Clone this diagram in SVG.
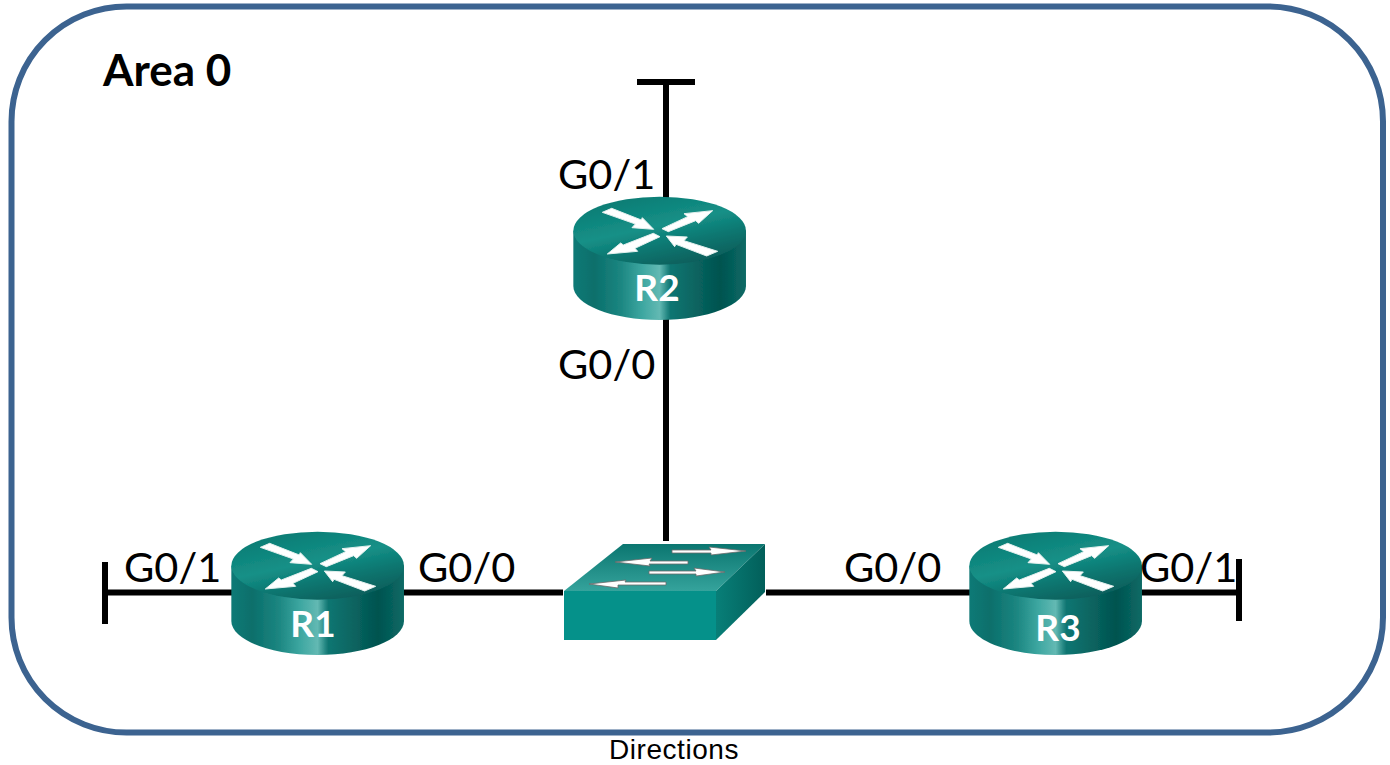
<svg xmlns="http://www.w3.org/2000/svg" width="1390" height="765" viewBox="0 0 1390 765">
<style>
.lbl{font-family:"Lato","Carlito","Liberation Sans",sans-serif;font-size:41.5px;fill:#000}
.name{font-family:"Lato","Carlito","Liberation Sans",sans-serif;font-size:37px;font-weight:700;fill:#fff;text-anchor:middle}
.wire{stroke:#000;stroke-width:6;fill:none}
</style>
<defs>
<filter id="soft" x="-5%" y="-5%" width="110%" height="110%"><feGaussianBlur stdDeviation="0.6"/></filter>
<linearGradient id="side" x1="0" x2="1" y1="0" y2="0">
<stop offset="0" stop-color="#0f7a76"/><stop offset=".12" stop-color="#0a6f6b"/><stop offset=".27" stop-color="#1b8580"/><stop offset=".4" stop-color="#3da7a1"/><stop offset=".5" stop-color="#63b9b3"/><stop offset=".56" stop-color="#0f7672"/><stop offset=".85" stop-color="#02534f"/><stop offset="1" stop-color="#0a6a66"/>
</linearGradient>
<linearGradient id="top" x1="0.2" x2="0.75" y1="0" y2="1">
<stop offset="0" stop-color="#097a72"/><stop offset=".45" stop-color="#159087"/><stop offset=".7" stop-color="#0b7670"/><stop offset="1" stop-color="#065b58"/>
</linearGradient>
<linearGradient id="swtop" x1="0" x2="0" y1="0" y2="1">
<stop offset="0" stop-color="#0b7670"/><stop offset="1" stop-color="#35a39c"/>
</linearGradient>
<linearGradient id="swside" x1="0" x2="1" y1="0" y2="0">
<stop offset="0" stop-color="#087f78"/><stop offset="1" stop-color="#025f5a"/>
</linearGradient>
<g id="router" transform="scale(.3333)">
<g filter="url(#soft)">
<path d="M70 152V318C70 374 186 420 329 420S588 374 588 318V152Z" fill="url(#side)"/>
<ellipse cx="329" cy="152" rx="259" ry="102" fill="url(#top)"/>
</g>
<g fill="#fff" stroke="#e4f0ee" stroke-width="3" stroke-linejoin="round" filter="url(#soft)">
<path d="M157 97 185 85 274 120 277 113 311 148 246 143 256 132Z"/>
<path d="M488 92 446 130 437 122 355 155 336 146 413 110 402 101Z"/>
<path d="M172 222 212 189 220 195 310 160 330 170 255 205 263 214Z"/>
<path d="M349 168 412 171 402 182 503 214 470 228 378 193 374 200Z"/>
</g>
</g>
</defs>
<rect x="11.5" y="6.5" width="1371.5" height="726" rx="115" ry="115" fill="#fff" stroke="#3c6390" stroke-width="6"/>
<text x="103" y="86" font-family="Lato,Carlito,'Liberation Sans',sans-serif" font-size="44" font-weight="700">Area 0</text>
<g id="connectors" class="wire">
<path d="M666 82V541M637 82H695"/>
<path d="M105 592.500H563M105 562V624"/>
<path d="M766 592.500H1239M1239 559V621"/>
</g>
<g id="R2"><use href="#router" transform="translate(550 180)"/><text class="name" x="657" y="301">R2</text></g>
<g id="R1"><use href="#router" transform="translate(208 515)"/><text class="name" x="313" y="637">R1</text></g>
<g id="R3"><use href="#router" transform="translate(946 515)"/><text class="name" x="1058" y="641">R3</text></g>
<g id="SW">
<path d="M564 591 623 544H765L716 591Z" fill="url(#swtop)"/>
<path d="M716 591 765 544V592L716 640Z" fill="url(#swside)"/>
<rect x="564" y="591" width="152" height="49" fill="#05918a"/>
<g fill="#fff" stroke="#6a6a6a" stroke-width=".8">
<path d="M672 550H711L709 547 746 551 711 555 711 553H672Z"/>
<path d="M688 561H650L652 558 615 562 650 566 649 564H688Z"/>
<path d="M649 571H696L694 568 725 572 696 576 696 574H649Z"/>
<path d="M666 582H625L626 580 589 584 618 588 618 585H666Z"/>
</g>
</g>
<g id="labels">
<text class="lbl" x="558" y="189">G0/1</text>
<text class="lbl" x="558" y="379">G0/0</text>
<text class="lbl" x="124" y="582">G0/1</text>
<text class="lbl" x="418" y="582">G0/0</text>
<text class="lbl" x="844" y="582">G0/0</text>
<text class="lbl" x="1140" y="582">G0/1</text>
</g>
<text x="609" y="759" font-family="'Liberation Sans',Arial,sans-serif" font-size="28" letter-spacing=".55" fill="#000">Directions</text>
</svg>
